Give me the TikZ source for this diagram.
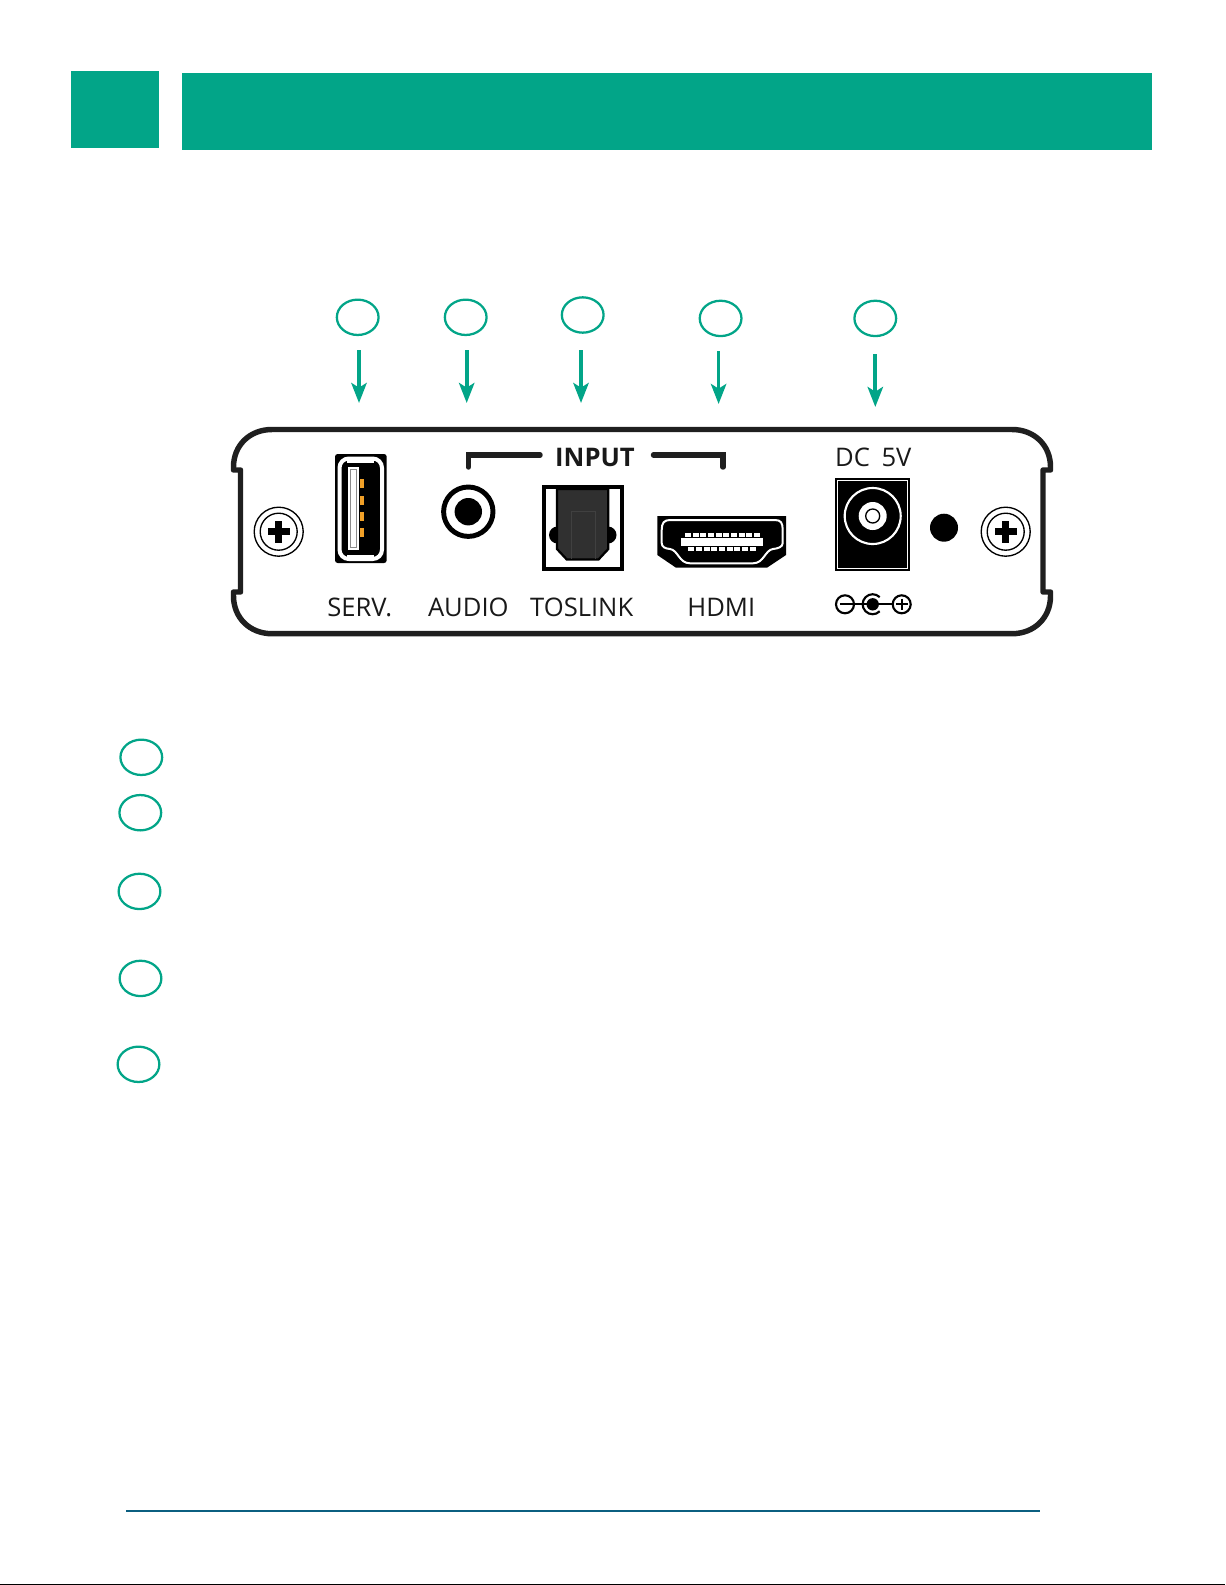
\documentclass[tikz,border=0pt]{standalone}
\usepackage{fontspec}
\usepackage{xcolor}
\setmainfont{Open Sans}
\usetikzlibrary{shapes.geometric,arrows.meta}
\definecolor{bannergreen}{RGB}{2,165,136}
\definecolor{footblue}{RGB}{11,95,128}
\definecolor{pinorange}{RGB}{240,160,40}
\definecolor{bodygray}{RGB}{48,48,48}
\tikzset{
  badge/.style={ellipse,draw=bannergreen,line width=1.7pt,minimum width=31.3pt,minimum height=26.5pt,inner sep=0pt},
  callout/.style={draw=bannergreen,line width=2.8pt,-{Stealth[length=15pt,width=11.5pt,inset=3.5pt]}},
  paneltext/.style={font=\fontsize{19.2}{22}\selectfont,text=black!90,anchor=base,inner sep=0pt},
  panelline/.style={line width=4.1pt,draw=black!88,line join=round}
}
\begin{document}
\begin{tikzpicture}[x=0.75pt,y=-0.75pt]
        \useasboundingbox (0,0) rectangle (1225,1585);
        % Banner
        \fill[bannergreen] (71,71) rectangle (159,148);
        \fill[bannergreen] (182,73) rectangle (1152,150);
        % Badges over the panel
        \node[badge] (topusb) at (357.7,317.3) {};
        \node[badge] (topaudio) at (465.7,317.3) {};
        \node[badge] (toptos) at (582.7,315) {};
        \node[badge] (tophdmi) at (720.6,318.4) {};
        \node[badge] (topdc) at (875.3,318.4) {};
        % Arrow ends
        \coordinate (usbfrom) at (359,350);
        \coordinate (usbto) at (359,403);
        \coordinate (audiofrom) at (466.7,350);
        \coordinate (audioto) at (466.7,403);
        \coordinate (tosfrom) at (581,350);
        \coordinate (tosto) at (581,403);
        \coordinate (hdmifrom) at (718.6,351);
        \coordinate (hdmito) at (718.6,404);
        \coordinate (dcfrom) at (875.3,354);
        \coordinate (dcto) at (875.3,407);
        \draw[callout] (usbfrom) -- (usbto);
        \draw[callout] (audiofrom) -- (audioto);
        \draw[callout] (tosfrom) -- (tosto);
        \draw[callout] (hdmifrom) -- (hdmito);
        \draw[callout] (dcfrom) -- (dcto);
        % Panel outline
        \draw[panelline] (233.5,470) -- (233.5,467) .. controls (233.5,445) and (250,429.5) .. (272,429.5)
            -- (1012,429.5) .. controls (1034,429.5) and (1050.5,445) .. (1050.5,467) -- (1050.5,470) -- (1043,470)
            -- (1043,592) -- (1050.5,592) -- (1050.5,596) .. controls (1050.5,618) and (1034,633.7) .. (1012,633.7)
            -- (272,633.7) .. controls (250,633.7) and (233.5,618) .. (233.5,596) -- (233.5,592) -- (240.5,592) -- (240.5,470) -- cycle;
        % Screws
        \foreach \sx in {278.7,1005.7} {
            \draw[line width=1pt] (\sx,531.7) circle (24.5);
            \draw[line width=1pt] (\sx,531.7) circle (18.5);
            \fill (\sx-11,528.2) rectangle (\sx+11,535.2);
            \fill (\sx-3.5,520.7) rectangle (\sx+3.5,542.7);
        }
        % USB
        \fill[rounded corners=2pt] (335,454) rectangle (386.7,563);
        \draw[white,line width=3pt,rounded corners=7pt] (339.5,458.5) rectangle (382,559);
        \fill[white] (347,456.7) rectangle (373.5,463);
        \fill[white] (347,555) rectangle (373.5,560.5);
        \fill[white] (348,467) rectangle (359,550);
        \draw[black!45,line width=0.5pt] (350.5,469.5) rectangle (356.5,547.5);
        \foreach \py in {479,495.5,511.5,527.5} {
            \fill[pinorange] (359.5,\py) rectangle (363.5,\py+9);
        }
        % Audio jack
        \draw[line width=3.7pt] (468.3,511.7) circle (24.7);
        \fill (468.3,511.7) circle (13.7);
        % Toslink
        \draw[line width=3.2pt] (543.8,487.2) rectangle (622,568.7);
        \fill (557.5,535) circle (8.5);
        \fill (608,535) circle (8.5);
        \draw[fill=bodygray,line width=1.7pt] (557,489) -- (608.3,489) -- (608.3,549) -- (598.5,559.5) -- (566.8,559.5) -- (557,549) -- cycle;
        \draw[black!75,line width=0.6pt] (571.7,558.5) -- (571.7,511.7) -- (595,511.7) -- (595,558.5);
        % HDMI
        \fill (657.3,516) -- (786,516) -- (786,555) -- (767,567.7) -- (676,567.7) -- (657.3,555) -- cycle;
        \draw[white,line width=1.5pt] (661.7,530) .. controls (661.7,523) and (664,520) .. (670,520) -- (775,520)
            .. controls (781,520) and (782.7,523) .. (782.7,530) -- (782.7,543) .. controls (782.7,547) and (778,548.5) .. (773,549)
            .. controls (765,550) and (764,563.3) .. (753,563.3) -- (690,563.3) .. controls (679,563.3) and (678,550) .. (670,549)
            .. controls (665,548.5) and (661.7,547) .. (661.7,543) -- cycle;
        \fill[white] (681,538) rectangle (763.3,546);
        \foreach \pn in {0,...,9} {
            \fill[white] (685+\pn*7.67,533.3) rectangle (691+\pn*7.67,537.2);
        }
        \foreach \pn in {0,...,8} {
            \fill[white] (688.3+\pn*7.67,546.8) rectangle (694.3+\pn*7.67,550.5);
        }
        % DC jack
        \fill (835,478.3) rectangle (910,570.7);
        \draw[white,line width=0.8pt] (837.5,480.8) rectangle (907.5,568.2);
        \draw[white,line width=1.6pt] (872.7,516) circle (28);
        \fill[white] (872.7,516) circle (14);
        \draw[line width=1pt] (872.7,516) circle (7);
        % Indicator
        \fill (944,527.7) circle (14);
        % Polarity mark
        \draw[line width=1.6pt] (845,604.3) circle (9);
        \draw[line width=1.6pt] (901.7,604.3) circle (9);
        \draw[line width=1.6pt] (872.7,604.3) ++(7,7) arc[start angle=45,end angle=315,radius=10];
        \fill (872.7,604.3) circle (6.2);
        \draw[line width=1.6pt] (840,604.3) -- (892.7,604.3);
        \draw[line width=1.6pt] (901.7,598.5) -- (901.7,610.1) (895.9,604.3) -- (907.5,604.3);
        % Input bracket
        \draw[panelline,line cap=round,line join=miter] (468.3,467) -- (468.3,455) -- (540,455);
        \draw[panelline,line cap=round,line join=miter] (653.5,455) -- (723,455) -- (723,467);
        % Texts
        \node[paneltext,font=\fontsize{19.2}{22}\selectfont\bfseries] (lblinput) at (595,466) {INPUT};
        \node[paneltext] (lblserv) at (359.7,616) {SERV.};
        \node[paneltext] (lblaudio) at (468.3,616) {AUDIO};
        \node[paneltext] (lbltos) at (581.7,616) {TOSLINK};
        \node[paneltext] (lblhdmi) at (721.3,616) {HDMI};
        \node[paneltext] (lbldc) at (873.3,466.7) {DC\hspace{0.45em}5V};
        % Badges of the list
        \node[badge] (listusb) at (141.3,757.3) {};
        \node[badge] (listaudio) at (140.3,812.7) {};
        \node[badge] (listtos) at (139.5,891.4) {};
        \node[badge] (listhdmi) at (140.5,978.4) {};
        \node[badge] (listdc) at (138.5,1064.3) {};
        % Foot
        \fill[footblue] (126,1510) rectangle (1040,1512);
        \fill[black] (0,1583.7) rectangle (1225,1585);
    \end{tikzpicture}
\end{document}
